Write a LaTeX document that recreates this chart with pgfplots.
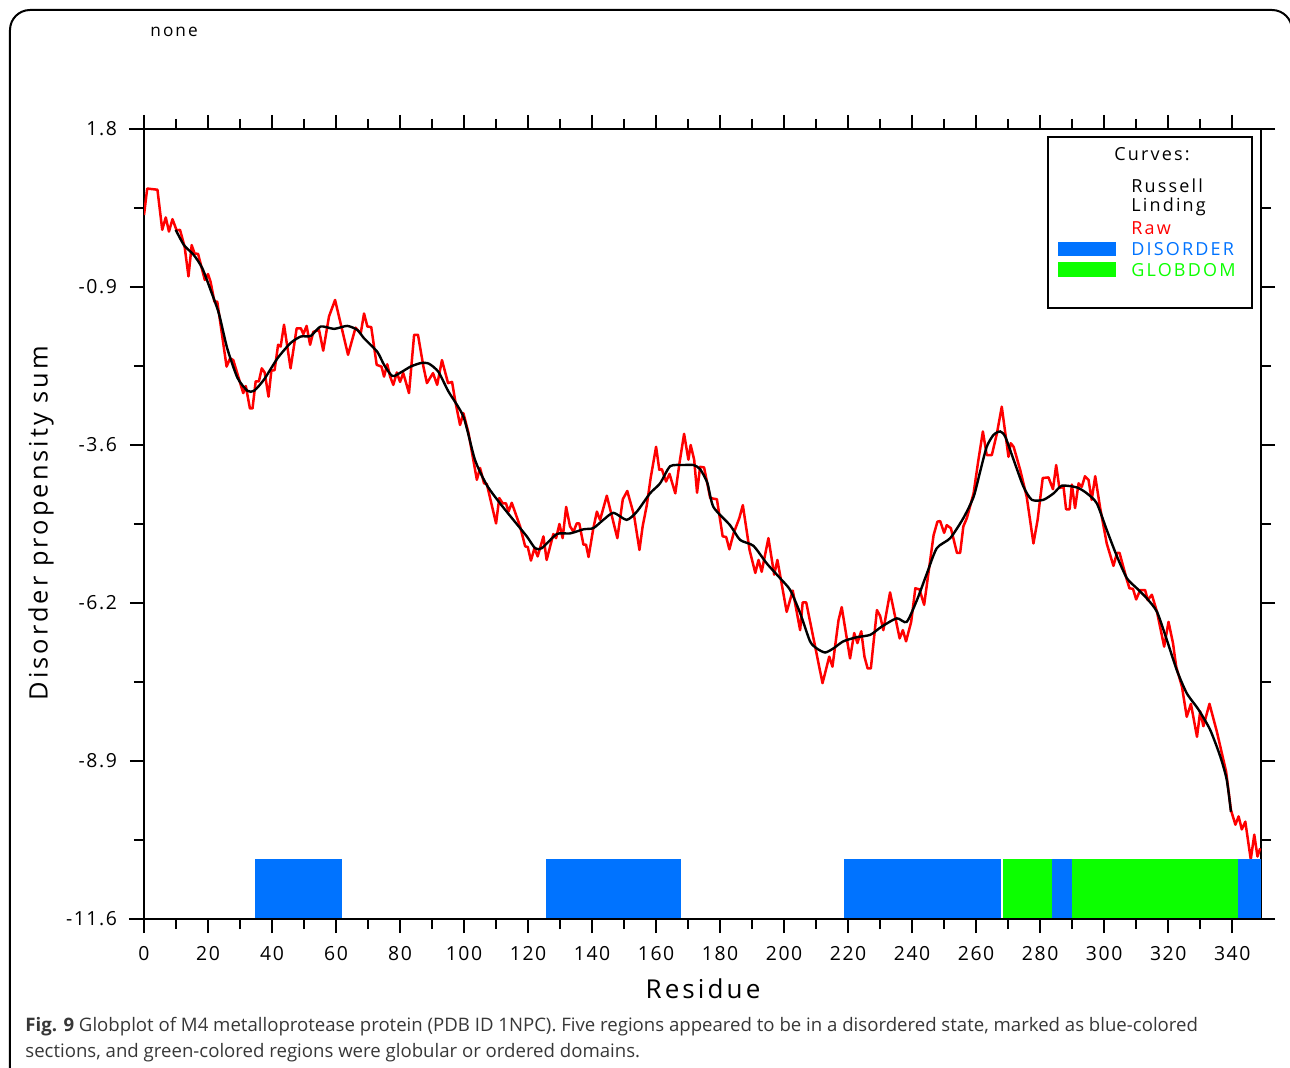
\documentclass[border=0pt]{standalone}
\usepackage{pgfplots}
\pgfplotsset{compat=1.18}
\usepackage{fontspec}
\setmainfont{Open Sans}
\newfontfamily\lab[LetterSpace=12]{Open Sans}
\newfontfamily\labb[LetterSpace=8]{Open Sans}
\definecolor{dblue}{RGB}{0,115,255}
\definecolor{dgreen}{RGB}{12,255,0}
\definecolor{capgray}{RGB}{55,55,55}

\pgfplotstableread{
x y
0 0.34
1 0.79
4.2 0.77
5.7 0.09
6.8 0.30
7.8 0.06
8.9 0.27
10.2 0.08
11.25 0.09
12.7 -0.20
13.9 -0.70
14.9 -0.17
15.8 -0.31
16.9 -0.32
19 -0.76
20 -0.66
20.8 -0.79
22 -1.13
22.9 -1.13
25.8 -2.23
26.9 -2.09
27.9 -2.12
31 -2.68
31.8 -2.56
33.1 -2.94
33.9 -2.94
34.9 -2.48
35.9 -2.48
36.8 -2.26
37.7 -2.33
38.9 -2.74
39.8 -2.30
40.8 -2.29
41.9 -1.86
42.7 -1.89
43.75 -1.52
45.8 -2.26
47.7 -1.58
49 -1.58
49.8 -1.68
50.8 -1.54
51.9 -1.86
52.9 -1.64
54.7 -1.61
56 -1.96
57.8 -1.38
59.7 -1.10
63.75 -2.03
66.1 -1.57
67.7 -1.67
68.75 -1.33
69.8 -1.55
71 -1.56
72.7 -2.2
74.2 -2.23
75 -2.40
76 -2.19
76.9 -2.40
77.9 -2.54
79 -2.33
80 -2.49
81 -2.34
82.8 -2.68
84.4 -1.69
85.6 -1.69
87.3 -2.23
88.4 -2.51
90.3 -2.34
91.6 -2.54
93.1 -2.12
95 -2.51
96.25 -2.49
97.2 -2.80
98.75 -3.22
99.8 -3.02
101.4 -3.36
104 -4.15
105 -3.95
106.25 -4.21
107.1 -4.22
110 -4.89
111 -4.46
112.1 -4.55
113.1 -4.55
113.9 -4.69
114.9 -4.54
117.5 -4.94
119.1 -5.28
119.9 -5.29
120.9 -5.52
122 -5.31
123 -5.45
124.8 -5.11
125.8 -5.51
127.9 -5.07
128.75 -5.14
129.8 -4.90
130.8 -5.14
131.9 -4.61
133.1 -4.94
134.2 -5.03
135.2 -4.89
136 -4.89
137.3 -5.25
138.1 -5.25
138.9 -5.46
140.4 -4.97
141.5 -4.69
142.5 -4.83
144.6 -4.42
147.9 -5.14
149.6 -4.48
151 -4.34
153.1 -4.75
154.8 -5.34
155.8 -4.94
157.1 -4.58
158.3 -4.12
160 -3.59
161 -3.98
161.8 -3.97
163.1 -4.18
164.2 -4.05
164.9 -4.18
166 -4.38
167.3 -3.87
168.75 -3.37
170.1 -3.81
170.8 -3.56
171.9 -3.81
172.8 -4.37
173.75 -3.93
175 -3.94
176.9 -4.46
179 -4.48
180.8 -5.11
181.9 -5.12
182.9 -5.33
184.2 -5.06
186 -4.80
187.1 -4.58
189.2 -5.34
191 -5.73
192 -5.51
193 -5.71
195.1 -5.14
196.9 -5.76
197.9 -5.51
200.8 -6.39
202.7 -6.03
205 -6.70
205.8 -6.23
206.9 -6.23
209.7 -6.98
212 -7.60
214.1 -7.15
215.1 -7.32
217 -6.53
218 -6.31
220.6 -7.18
221.9 -6.75
222.9 -6.92
224.1 -6.72
225.1 -7.15
226.1 -7.35
227.1 -7.35
229 -6.36
230 -6.46
231 -6.70
233.1 -6.06
236.1 -6.84
237.1 -6.70
238.1 -6.89
239.7 -6.56
241 -5.99
242.3 -6.01
243.75 -6.27
246.7 -5.09
247.9 -4.86
248.75 -4.85
250 -5.05
250.8 -4.92
252.1 -4.97
254 -5.39
255 -5.39
256 -4.94
257.1 -4.80
259.2 -4.38
260.6 -3.85
262.1 -3.33
263.3 -3.73
264.9 -3.73
266.5 -3.36
268 -2.91
270.1 -3.76
270.8 -3.53
271.7 -3.59
273.75 -3.98
275.8 -4.44
277.9 -5.23
279.2 -4.83
280.8 -4.12
282.6 -4.11
284 -4.31
285 -3.90
286 -4.29
287.3 -4.27
288.1 -4.65
289.2 -4.65
289.9 -4.23
290.9 -4.63
292 -4.21
293 -4.27
294 -4.09
295.1 -4.15
296.1 -4.49
297.2 -4.09
298.75 -4.63
300.8 -5.23
302.9 -5.61
304 -5.39
304.8 -5.39
307.1 -5.85
307.9 -5.99
309 -6.0
310 -6.18
311.25 -6.02
312.8 -6.02
313.6 -6.19
314.9 -6.10
316.5 -6.39
318.75 -6.98
320.1 -6.56
321.5 -6.92
322.5 -7.32
324.3 -7.66
325.8 -8.17
327.1 -7.95
329 -8.51
330 -8.08
331 -8.33
332.9 -7.95
335.2 -8.42
338.1 -9.10
339.6 -9.75
341 -10.0
342 -9.86
343 -10.08
344.1 -9.95
345.8 -10.59
346.9 -10.17
347.9 -10.54
348.75 -10.40
}\rawdata

\pgfplotstableread{
x y
9.9 0.09
12.5 -0.17
15.6 -0.34
18.2 -0.56
20.8 -0.93
23.4 -1.33
26 -1.92
29.2 -2.42
32.3 -2.64
34.4 -2.64
37.5 -2.45
41.7 -2.09
45.8 -1.83
49 -1.72
52.1 -1.71
55.2 -1.55
59.4 -1.59
63.5 -1.54
66.7 -1.61
68.75 -1.75
72.9 -1.98
75 -2.2
77.6 -2.39
80.2 -2.33
83.3 -2.23
86.5 -2.17
89 -2.18
92 -2.32
95.1 -2.65
99.8 -3.08
103.4 -3.81
107.1 -4.24
111.25 -4.55
115.4 -4.83
119.6 -5.11
122.2 -5.31
124.3 -5.31
129 -5.07
133.1 -5.06
137.3 -4.99
140.4 -4.97
143.5 -4.83
146.7 -4.71
150.8 -4.83
154 -4.69
158.1 -4.38
161.25 -4.21
164.4 -3.92
168.5 -3.90
171.7 -3.90
173.75 -3.97
176 -4.2
177.9 -4.61
183.1 -4.92
186.25 -5.17
190.4 -5.27
194.6 -5.57
198.75 -5.82
201.9 -6.02
205 -6.41
208.1 -6.89
210.2 -7.01
212.8 -7.08
215.4 -7.01
218.5 -6.89
222.7 -6.82
226.9 -6.78
230.5 -6.64
235.2 -6.50
238.3 -6.56
241.5 -6.19
244.6 -5.74
247.7 -5.31
251.9 -5.14
256 -4.80
259.2 -4.44
261.25 -4.01
263.3 -3.59
265.4 -3.39
267.5 -3.33
269.1 -3.42
271.7 -3.81
274.8 -4.27
277.4 -4.49
281 -4.49
284.2 -4.38
286.8 -4.25
291.5 -4.28
294.6 -4.38
297.7 -4.55
300.8 -5.0
304 -5.45
307.1 -5.82
310.2 -5.99
313.3 -6.16
316.5 -6.39
319.6 -6.87
322.7 -7.38
325.8 -7.77
329.5 -8.05
333.1 -8.39
336.25 -8.84
338.3 -9.24
339.6 -9.78
}\smoothdata

\begin{document}
\begin{tikzpicture}
\useasboundingbox (-72pt,-74pt) rectangle (573pt,459.5pt);
\begin{axis}[at={(0,0)}, anchor=south west, scale only axis,
  width=558.5pt, height=395pt,
  xmin=0, xmax=349, ymin=-11.6, ymax=1.8,
  xtick={0,20,...,340}, minor xtick={10,30,...,330},
  ytick={-11.6,-8.92,-6.24,-3.56,-0.88,1.8},
  yticklabels={-11.6,-8.9,-6.2,-3.6,-0.9,1.8},
  minor ytick={-10.26,-7.58,-4.9,-2.22,0.46},
  tick align=outside, major tick length=7pt, minor tick length=5pt,
  axis line style={line width=1pt},
  tick style={black, line width=1pt},
  ticklabel style={font=\labb\fontsize{9.7}{11}\selectfont},
  xticklabel style={yshift=-3pt},
  yticklabel style={xshift=-3pt},
  xticklabel pos=lower, yticklabel pos=left,
  /pgf/number format/assume math mode=true,
  clip=true,
]
\addplot[red, line width=1.25pt, line join=round] table[x=x,y=y] {\rawdata};
\addplot[black, line width=1.2pt, smooth, tension=0.4] table[x=x,y=y] {\smoothdata};
% regions
\addplot[fill=dblue, draw=none] coordinates {(34.7,-11.6) (34.7,-10.58) (61.9,-10.58) (61.9,-11.6)} -- cycle;
\addplot[fill=dblue, draw=none] coordinates {(125.7,-11.6) (125.7,-10.58) (167.8,-10.58) (167.8,-11.6)} -- cycle;
\addplot[fill=dblue, draw=none] coordinates {(218.75,-11.6) (218.75,-10.58) (267.8,-10.58) (267.8,-11.6)} -- cycle;
\addplot[fill=dgreen, draw=none] coordinates {(268.4,-11.6) (268.4,-10.58) (283.75,-10.58) (283.75,-11.6)} -- cycle;
\addplot[fill=dblue, draw=none] coordinates {(283.75,-11.6) (283.75,-10.58) (290,-10.58) (290,-11.6)} -- cycle;
\addplot[fill=dgreen, draw=none] coordinates {(290,-11.6) (290,-10.58) (341.9,-10.58) (341.9,-11.6)} -- cycle;
\addplot[fill=dblue, draw=none] coordinates {(341.9,-11.6) (341.9,-10.58) (349,-10.58) (349,-11.6)} -- cycle;
\end{axis}
\begin{scope}[x=0.5pt, y=-0.5pt, shift={(-72pt,459.5pt)}]
% extended horizontal axis lines
\draw[line width=1pt] (129,919) -- (1275,919);
\draw[line width=1pt] (129,129) -- (1275,129);
% outer frame
\draw[line width=1pt, rounded corners=10pt] (10,1075) -- (10,10) -- (1292,10) -- (1292,1075);
% top label
\node[anchor=base west, inner sep=0, font=\lab\fontsize{8.6}{10}\selectfont] at (150,37) {none};
% axis labels
\node[rotate=90, inner sep=0, font=\lab\fontsize{12.7}{15}\selectfont] at (41,523) {Disorder propensity sum};
\node[inner sep=0, font=\lab\fontsize{13}{15}\selectfont] at (703,989) {Residue};
% legend
\draw[line width=0.9pt, fill=white] (1048,137) rectangle (1252,308);
\node[anchor=west, inner sep=0, font=\lab\fontsize{9}{10}\selectfont] at (1114,154) {Curves:};
\node[anchor=west, inner sep=0, font=\lab\fontsize{9}{10}\selectfont] at (1131,186) {Russell};
\node[anchor=west, inner sep=0, font=\lab\fontsize{9}{10}\selectfont] at (1131,207) {Linding};
\node[anchor=west, inner sep=0, font=\lab\fontsize{9}{10}\selectfont, text=red] at (1131,228) {Raw};
\node[anchor=west, inner sep=0, font=\lab\fontsize{9}{10}\selectfont, text=dblue] at (1131,249) {DISORDER};
\node[anchor=west, inner sep=0, font=\lab\fontsize{9}{10}\selectfont, text=dgreen] at (1131,270) {GLOBDOM};
\fill[dblue] (1058,242) rectangle (1116,256);
\fill[dgreen] (1058,262) rectangle (1116,277);
% caption
\node[anchor=base west, inner sep=0, text=capgray, font=\fontsize{9.3}{11}\selectfont] at (25,1031)
  {\textbf{Fig. 9} Globplot of M4 metalloprotease protein (PDB ID 1NPC). Five regions appeared to be in a disordered state, marked as blue-colored};
\node[anchor=base west, inner sep=0, text=capgray, font=\fontsize{9.3}{11}\selectfont] at (25,1057)
  {sections, and green-colored regions were globular or ordered domains.};
\end{scope}
\end{tikzpicture}
\end{document}
